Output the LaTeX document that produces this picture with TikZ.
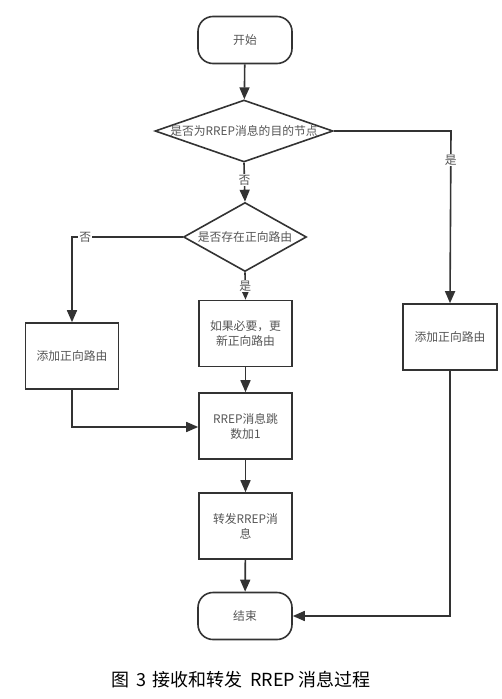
\documentclass[tikz,border=0pt]{standalone}
\usepackage{fontspec}
\setmainfont{Noto Sans CJK SC}
\usetikzlibrary{shapes.geometric,arrows.meta}
\definecolor{ln}{HTML}{333333}
\definecolor{tx}{HTML}{555555}
\begin{document}
\begin{tikzpicture}[x=1pt,y=-1pt,
  every node/.style={font=\fontsize{11.8}{15}\selectfont, text=tx, align=center, inner sep=0pt},
  term/.style={draw=ln, line width=1.6pt, rounded corners=15pt, minimum width=94pt, minimum height=47pt},
  procbox/.style={draw=ln, line width=1.6pt, minimum width=93pt, minimum height=66pt},
  conn/.style={draw=ln, line width=1.6pt, -{Triangle[length=12pt,width=10pt]}},
  lbl/.style={fill=white, inner sep=1pt},
  captxt/.style={text=black, font=\fontsize{18}{20}\selectfont, anchor=west}]
\useasboundingbox (0,0) rectangle (501,699);
\node[term] (start) at (245,40) {开始};
\node[draw=ln, line width=1.6pt, diamond, minimum width=178pt, minimum height=62pt, aspect=2.87] (d1) at (244,131) {};
\node at (244,131) {是否为RREP消息的目的节点};
\node[draw=ln, line width=1.6pt, diamond, minimum width=123pt, minimum height=69pt, aspect=1.78] (d2) at (245,237) {};
\node at (245,237) {是否存在正向路由};
\node[procbox] (left) at (72,356) {添加正向路由};
\node[procbox] (upd) at (245.5,333.5) {如果必要，更\\新正向路由};
\node[procbox, minimum width=94pt] (right) at (450,337) {添加正向路由};
\node[procbox] (hop) at (245.5,426) {RREP消息跳\\数加1};
\node[procbox] (fwd) at (245.5,526) {转发RREP消\\息};
\node[term] (end) at (245,616) {结束};
\coordinate (c1) at (451,131);
\coordinate (c2) at (72,237);
\coordinate (c3) at (72,427);
\coordinate (c4) at (450,616);
\draw[conn] (start) -- (d1);
\draw[conn] (d1.south) -- node[lbl, pos=0.45] {否} (d2.north);
\draw[conn] (d1.east) -- (c1) -- node[lbl, pos=0.17] {是} (right.north);
\draw[conn] (d2.west) -- node[lbl, pos=0.88] {否} (c2) -- (left.north);
\draw[conn] (d2.south) -- node[lbl, pos=0.5] {是} (upd.north);
\draw[conn] (upd) -- (hop);
\draw[conn] (left.south) -- (c3) -- (hop.west |- c3);
\draw[conn] (hop) -- (fwd);
\draw[conn] (fwd) -- (end);
\draw[conn] (right.south) -- (c4) -- (end.east);
\node[captxt] (cap1) at (111,680) {图};
\node[captxt] (cap2) at (136,680) {3};
\node[captxt] (cap3) at (152,680) {接收和转发};
\node[captxt] (cap4) at (250,680) {RREP};
\node[captxt] (cap5) at (298,680) {消息过程};
\end{tikzpicture}
\end{document}
